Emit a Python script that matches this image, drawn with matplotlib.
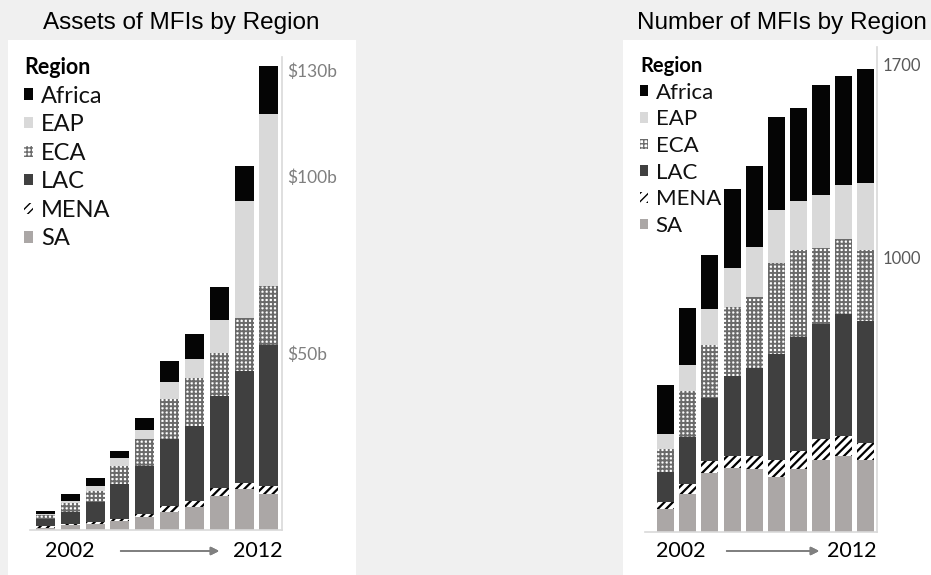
import numpy as np
import matplotlib.pyplot as plt
from matplotlib.patches import Rectangle

# data (10 years, 2002 -> 2012)
regions = ['SA', 'MENA', 'LAC', 'ECA', 'EAP', 'Africa']

assets_sa     = [0.6, 1.3, 1.8, 2.5, 3.6, 5.0, 6.4, 9.6, 11.5, 10.3]
assets_mena   = [0.4, 0.3, 0.5, 0.5, 0.8, 1.7, 1.7, 2.2, 1.9, 2.2]
assets_lac    = [2.0, 3.6, 5.5, 10.1, 13.6, 19.0, 21.3, 26.1, 31.6, 39.7]
assets_eca    = [1.1, 2.5, 3.3, 5.0, 7.8, 11.3, 13.6, 12.2, 14.8, 16.7]
assets_eap    = [0.4, 0.6, 1.4, 2.1, 2.5, 4.7, 5.4, 9.2, 33.1, 48.5]
assets_africa = [0.8, 1.8, 2.3, 2.1, 3.4, 5.9, 7.1, 9.4, 9.9, 13.6]

count_sa     = [85, 140, 215, 234, 228, 200, 228, 261, 276, 261]
count_mena   = [24, 36, 43, 42, 48, 63, 67, 76, 72, 63]
count_lac    = [109, 169, 228, 290, 320, 385, 415, 418, 446, 444]
count_eca    = [85, 166, 194, 252, 258, 329, 315, 279, 270, 257]
count_eap    = [55, 98, 130, 142, 182, 194, 179, 190, 199, 243]
count_africa = [176, 206, 197, 289, 295, 339, 336, 400, 394, 415]

assets_ticks = [50, 100, 130]
assets_tick_labels = ['$50b', '$100b', '$130b']
count_ticks = [1000, 1700]
count_tick_labels = ['1000', '1700']

BODY = ['Lato', 'DejaVu Sans']
TITLE = ['Liberation Sans', 'DejaVu Sans']

styles = {
    'SA':     dict(color='#aba7a6', hatch=None, edge='#aba7a6', hlw=1.0),
    'MENA':   dict(color='white', hatch='////', edge='black', hlw=1.6),
    'LAC':    dict(color='#404040', hatch=None, edge='#404040', hlw=1.0),
    'ECA':    dict(color='white', hatch='++++', edge='#6a6a6a', hlw=1.4),
    'EAP':    dict(color='#d9d9d9', hatch=None, edge='#d9d9d9', hlw=1.0),
    'Africa': dict(color='#050505', hatch=None, edge='#050505', hlw=1.0),
}

W, H = 931, 575
fig = plt.figure(figsize=(W / 100, H / 100), dpi=100)
fig.patch.set_facecolor('#f0f0f0')


def px_box(left, top, right, bottom):
    return [left / W, 1 - bottom / H, (right - left) / W, (bottom - top) / H]


# white panels
for (l, t, r, b) in [(8, 40, 356, 575), (623, 40, 931, 575)]:
    fig.patches.append(Rectangle((l / W, 1 - b / H), (r - l) / W, (b - t) / H,
                                 transform=fig.transFigure, facecolor='white',
                                 edgecolor='none', zorder=-5))


def stacked(ax, series, width, ymax, ticks, tick_labels, tick_color, tick_size,
            xlim, legend_anchor, legend_size, legend_space):
    x = np.arange(len(series[0]))
    bottom = np.zeros(len(x))
    handles = []
    for name, vals in zip(regions, series):
        st = styles[name]
        with plt.rc_context({'hatch.linewidth': st['hlw']}):
            bars = ax.bar(x, vals, width, bottom=bottom, color=st['color'],
                          hatch=st['hatch'], edgecolor=st['edge'], linewidth=0,
                          label=name)
        for p in bars:
            if hasattr(p, 'set_hatch_linewidth'):
                p.set_hatch_linewidth(st['hlw'])
        handles.append(bars)
        bottom += np.array(vals)

    ax.set_xlim(*xlim)
    ax.set_ylim(0, ymax)
    ax.set_facecolor('none')
    for s in ['left', 'top']:
        ax.spines[s].set_visible(False)
    for s in ['right', 'bottom']:
        ax.spines[s].set_color('#d9d9d9')
        ax.spines[s].set_linewidth(1.2)
    ax.set_xticks([])
    ax.yaxis.tick_right()
    ax.set_yticks(ticks)
    ax.set_yticklabels(tick_labels, family=BODY, fontsize=tick_size, color=tick_color)
    ax.tick_params(axis='y', length=0, pad=4)

    leg = ax.legend(handles[::-1], regions[::-1], title='Region', loc='upper left',
                    bbox_to_anchor=legend_anchor, bbox_transform=fig.transFigure,
                    frameon=False, handlelength=0.36, handleheight=0.36,
                    handletextpad=0.35, labelspacing=legend_space, borderpad=0,
                    borderaxespad=0,
                    prop={'family': BODY, 'size': legend_size},
                    title_fontproperties={'family': BODY, 'size': legend_size - 1.5,
                                          'weight': 'bold'},
                    alignment='left')
    for t in leg.get_texts():
        t.set_color('#111111')
    return leg


# left: assets
ax1 = fig.add_axes(px_box(30, 57, 282, 530))
stacked(ax1, [assets_sa, assets_mena, assets_lac, assets_eca, assets_eap, assets_africa],
        0.765, 473 / 3.54, assets_ticks, assets_tick_labels, '#7f7f7f', 12.5,
        (-0.624, 9.524), (24 / W, 1 - 57 / H), 17, 0.32)

# right: number of MFIs
ax2 = fig.add_axes(px_box(645, 47, 877, 532))
stacked(ax2, [count_sa, count_mena, count_lac, count_eca, count_eap, count_africa],
        0.77, 485 / 0.275, count_ticks, count_tick_labels, '#595959', 12,
        (-0.92, 9.52), (640 / W, 1 - 56 / H), 16, 0.3)

# titles
fig.text(181 / W, 1 - 23 / H, 'Assets of MFIs by Region', ha='center', va='center',
         family=TITLE, fontsize=17.5, color='black')
fig.text(782 / W, 1 - 23 / H, 'Number of MFIs by Region', ha='center', va='center',
         family=TITLE, fontsize=17.5, color='black')

# year labels with arrows
for x0, x1, a0, a1, y in [(70, 258, 118, 222, 551), (681, 852, 724, 822, 551)]:
    fig.text(x0 / W, 1 - y / H, '2002', ha='center', va='center', family=BODY,
             fontsize=15.5, color='black')
    fig.text(x1 / W, 1 - y / H, '2012', ha='center', va='center', family=BODY,
             fontsize=15.5, color='black')
    fig.add_artist(plt.annotate('', xy=(a1 / W, 1 - y / H), xytext=(a0 / W, 1 - y / H),
                                xycoords='figure fraction',
                                arrowprops=dict(arrowstyle='-|>', color='#808080',
                                                lw=1.3, mutation_scale=12)))

fig.savefig('out.png', dpi=100, facecolor=fig.get_facecolor())
